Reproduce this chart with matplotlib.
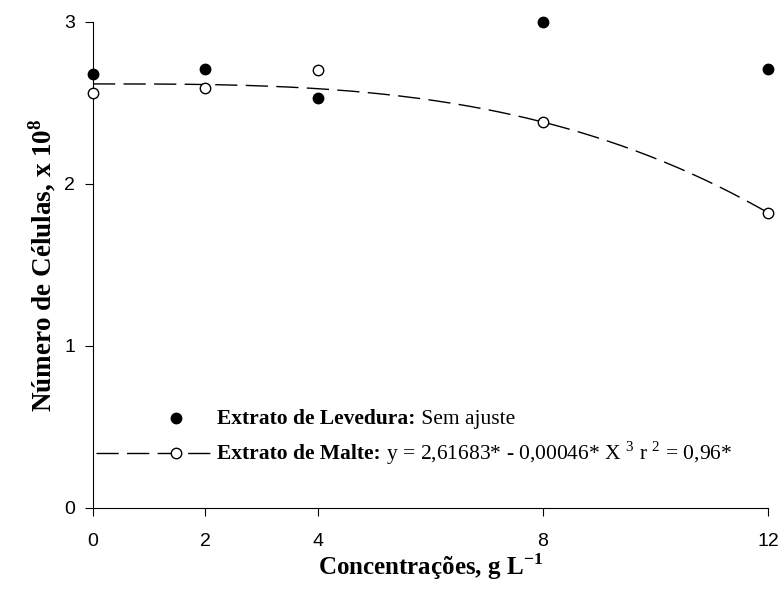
import numpy as np
import matplotlib.pyplot as plt

plt.rcParams['mathtext.fontset'] = 'custom'
plt.rcParams['mathtext.rm'] = 'Liberation Serif'
plt.rcParams['mathtext.bf'] = 'Liberation Serif:bold'

# Dados
concentracoes = [0, 2, 4, 8, 12]
levedura = [2.68, 2.71, 2.53, 3.00, 2.71]
malte = [2.56, 2.59, 2.70, 2.38, 1.82]

# Ajuste do extrato de malte: y = b0 - b3 * x^3
b0 = 2.61683
b3 = 0.00046
x_ajuste = np.linspace(0, 12, 200)
y_ajuste = b0 - b3 * x_ajuste ** 3

fig = plt.figure(figsize=(7.84, 5.90), dpi=100)
ax = fig.add_axes([0.1186, 0.139, 0.861, 0.824])

ax.plot(x_ajuste, y_ajuste, color='black', lw=1, dashes=(16, 6), clip_on=False)
ax.plot(concentracoes, levedura, 'o', color='black', ms=7.5, ls='none', clip_on=False)
ax.plot(concentracoes, malte, 'o', mfc='white', mec='black', mew=1, ms=7.5, ls='none',
        zorder=3, clip_on=False)

ax.set_xlim(0, 12)
ax.set_ylim(0, 3)
ax.set_xticks(concentracoes)
ax.set_yticks([0, 1, 2, 3])
for s in ['top', 'right']:
    ax.spines[s].set_visible(False)
ax.tick_params(direction='out', length=6, labelsize=14)
ax.tick_params(axis='x', pad=12)
ax.tick_params(axis='y', pad=7)
for lab in ax.get_xticklabels() + ax.get_yticklabels():
    lab.set_fontfamily('Liberation Sans')

ax.set_xlabel(r"Concentrações, g L$^{\mathbf{-1}}$", family='Liberation Serif',
              fontweight='bold', fontsize=18, labelpad=1)
ax.set_ylabel(r"Número de Células, x 10$^{\mathbf{8}}$", family='Liberation Serif',
              fontweight='bold', fontsize=19.5, labelpad=4)

# legenda desenhada a mao
tr = ax.transAxes
y1, y2 = 0.185, 0.113
ax.plot([0.123], [y1], 'o', color='black', ms=7.5, transform=tr, clip_on=False)
ax.plot([0.005, 0.178], [y2, y2], color='black', lw=1, dashes=(16, 6), transform=tr,
        clip_on=False)
ax.plot([0.123], [y2], 'o', mfc='white', mec='black', mew=1, ms=7.5, transform=tr,
        clip_on=False, zorder=4)
fonte = {'family': 'Liberation Serif', 'size': 15.5}
t1 = ax.text(0.184, y1 - 0.013, "Extrato de Levedura:", fontweight='bold',
             transform=tr, va='baseline', ha='left', **fonte)
ax.annotate(" Sem ajuste", xy=(1, y1 - 0.013), xycoords=(t1, tr),
            va='baseline', ha='left', **fonte)
t2 = ax.text(0.184, y2 - 0.013, "Extrato de Malte:", fontweight='bold',
             transform=tr, va='baseline', ha='left', **fonte)
ax.annotate(r" y = 2,61683* - 0,00046* X $^{3}$ r $^{2}$ = 0,96*", xy=(1, y2 - 0.013),
            xycoords=(t2, tr), va='baseline', ha='left', **fonte)

fig.savefig('out.png', dpi=100)
